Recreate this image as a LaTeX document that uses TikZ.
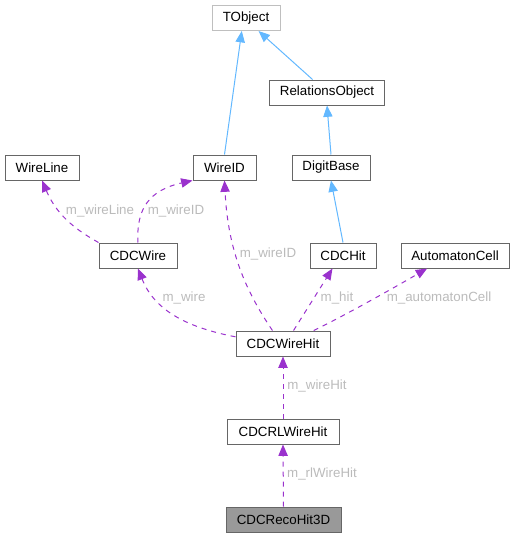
\documentclass[tikz,border=0pt]{standalone}
\usepackage{fontspec}
\setmainfont{Liberation Sans}
\usetikzlibrary{scopes,arrows.meta}
\definecolor{edgeblue}{HTML}{63B8FF}
\definecolor{edgepurple}{HTML}{9A32CD}
\definecolor{lblgrey}{HTML}{BBBBBB}
\definecolor{boxgrey}{HTML}{666666}
\definecolor{rootgrey}{HTML}{BFBFBF}
\definecolor{curgrey}{HTML}{999999}
\tikzset{
  cls/.style={draw=boxgrey,fill=white,line width=0.75pt,inner sep=0pt,
    minimum height=18.75pt,minimum width=#1*0.75pt,
    font=\fontsize{10}{12}\selectfont},
  extcls/.style={cls=#1,draw=rootgrey},
  curcls/.style={cls=#1,fill=curgrey},
  rel/.style={text=lblgrey,inner sep=0pt,font=\fontsize{10}{12}\selectfont},
  inherit/.style={-{Triangle[length=8.5pt,width=7pt]},edgeblue,line width=0.75pt},
  usage/.style={inherit,edgepurple,dash pattern=on 3.75pt off 3.75pt}
}
\begin{document}
\begin{tikzpicture}[x=0.75pt,y=-0.75pt]
  \useasboundingbox (0,0) rectangle (515,537);
  % classes
  \node[extcls=68]  (tobject)   at (246,18)    {TObject};
  \node[cls=115]    (relobj)    at (327,92.5)  {RelationsObject};
  \node[cls=74]     (wireline)  at (42,167.5)  {WireLine};
  \node[cls=63]     (wireid)    at (224.5,167.5) {WireID};
  \node[cls=78]     (digitbase) at (331,167.5) {DigitBase};
  \node[cls=78]     (cdcwire)   at (138,255.5) {CDCWire};
  \node[cls=66]     (cdchit)    at (343,255.5) {CDCHit};
  \node[cls=108]    (autocell)  at (455,255.5) {AutomatonCell};
  \node[cls=94]     (wirehit)   at (283,343.5) {CDCWireHit};
  \node[cls=112]    (rlwirehit) at (283,431.5) {CDCRLWireHit};
  \node[curcls=115] (recohit)   at (283.5,519.5) {CDCRecoHit3D};
  % inheritance
  {[inherit]
    \draw (wireid.north) -- (tobject.-108);
    \draw (relobj.138) -- (tobject.-46);
    \draw (digitbase.north) -- (relobj.south);
    \draw (cdchit.north) -- (digitbase.south);
  }
  % members
  {[usage]
    \draw (cdcwire.north west) .. controls (80,232) and (58,218) .. (wireline.south);
    \draw (cdcwire.north) .. controls (136,208) and (150,190) .. (wireid.south west);
    \draw (wirehit.129) .. controls (245,290) and (228,250) .. (wireid.south);
    \draw (wirehit.172) .. controls (190,328) and (155,312) .. (cdcwire.south);
    \draw (wirehit.51) -- (cdchit.-129);
    \draw (wirehit.23) .. controls (340,318) and (390,290) .. (autocell.-155);
    \draw (rlwirehit.north) -- (wirehit.south);
    \draw (recohit.north) -- (rlwirehit.south);
  }
  % member names
  \node[rel] (lwireline) at (100,211) {m\_wireLine};
  \node[rel] (lwireid)   at (176,211) {m\_wireID};
  \node[rel] (lwireidb)  at (268,254) {m\_wireID};
  \node[rel] (lwire)     at (184,298) {m\_wire};
  \node[rel] (lhit)      at (337,298) {m\_hit};
  \node[rel] (lautocell) at (439,298) {m\_automatonCell};
  \node[rel] (lwirehit)  at (317,386) {m\_wireHit};
  \node[rel] (lrlhit)    at (322,474) {m\_rlWireHit};
\end{tikzpicture}
\end{document}
